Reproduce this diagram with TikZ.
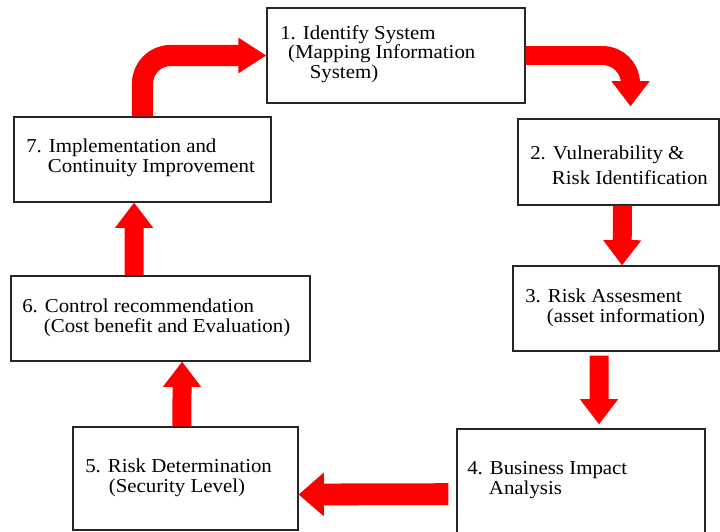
\documentclass[tikz,border=0pt]{standalone}
\usepackage{fontspec}
\setmainfont{Liberation Serif}[FakeStretch=1.06]
\usetikzlibrary{arrows.meta,shadows}

\begin{document}
\begin{tikzpicture}[x=0.025cm,y=-0.025cm,
  stepbox/.style={draw=black!85, line width=0.8pt, fill=white, inner sep=0pt,
    drop shadow={opacity=0.25,shadow xshift=0.8pt,shadow yshift=-0.8pt}},
  steptext/.style={anchor=west, align=left, inner sep=0pt, font=\fontsize{14}{14}\selectfont},
  flowarrow/.style={draw=red, line width=13.5pt, -{Triangle[length=18pt,width=26pt]}}]
\useasboundingbox (0,0) rectangle (720,531);

% Boxes
\node[stepbox, minimum width=6.45cm, minimum height=2.375cm] (b1) at (396,55.5) {};
\node[stepbox, minimum width=5.025cm, minimum height=2.15cm] (b2) at (618.5,162) {};
\node[stepbox, minimum width=5.15cm, minimum height=2.125cm] (b3) at (616,308.5) {};
\node[stepbox, minimum width=6.2cm, minimum height=2.775cm] (b4) at (581,484.5) {};
\node[stepbox, minimum width=5.625cm, minimum height=2.575cm] (b5) at (185.5,478.5) {};
\node[stepbox, minimum width=7.475cm, minimum height=2.125cm] (b6) at (160.5,318.5) {};
\node[stepbox, minimum width=6.425cm, minimum height=2.125cm] (b7) at (142.5,159.5) {};

% Texts
\node[steptext] (t1) at (280,54) {1. Identify System\\\hspace*{0.4em}(Mapping Information\\\hspace*{1.5em}System)};
\node[steptext] (t2) at (530,165.5) {2. Vulnerability \&\\[4pt]\hspace*{1.1em}Risk Identification};
\node[steptext] (t3) at (525,307.5) {3. Risk Assesment\\\hspace*{1.1em}(asset information)};
\node[steptext] (t4) at (467,480) {4. Business Impact\\\hspace*{1.1em}Analysis};
\node[steptext] (t5) at (85,477.5) {5. Risk Determination\\\hspace*{1.2em}(Security Level)};
\node[steptext] (t6) at (22,318) {6. Control recommendation\\\hspace*{1.1em}(Cost benefit and Evaluation)};
\node[steptext] (t7) at (26,158) {7. Implementation and\\\hspace*{1.1em}Continuity Improvement};

% Arrows
\draw[flowarrow, line width=15pt, -{Triangle[length=20pt,width=24pt]}, rounded corners=0.7cm] (b7.north) |- (b1.west);
\draw[flowarrow, rounded corners=0.7cm] (b1.east) -| ([xshift=0.3cm,yshift=0.3cm]b2.north);
\draw[flowarrow] ([xshift=0.1cm]b2.south) -- ([xshift=0.15cm]b3.north);
\draw[flowarrow] ([xshift=-0.425cm,yshift=-0.1cm]b3.south) -- ([xshift=0.45cm,yshift=0.1cm]b4.north);
\draw[flowarrow, line width=15.5pt, -{Triangle[length=18pt,width=30pt]}] ([xshift=-0.2cm,yshift=-0.24cm]b4.west) -- ([yshift=-0.4cm]b5.east);
\draw[flowarrow] ([xshift=-0.09cm]b5.north) -- ([xshift=0.54cm]b6.south);
\draw[flowarrow] ([xshift=-0.66cm]b6.north) -- ([xshift=-0.21cm]b7.south);
\end{tikzpicture}
\end{document}
